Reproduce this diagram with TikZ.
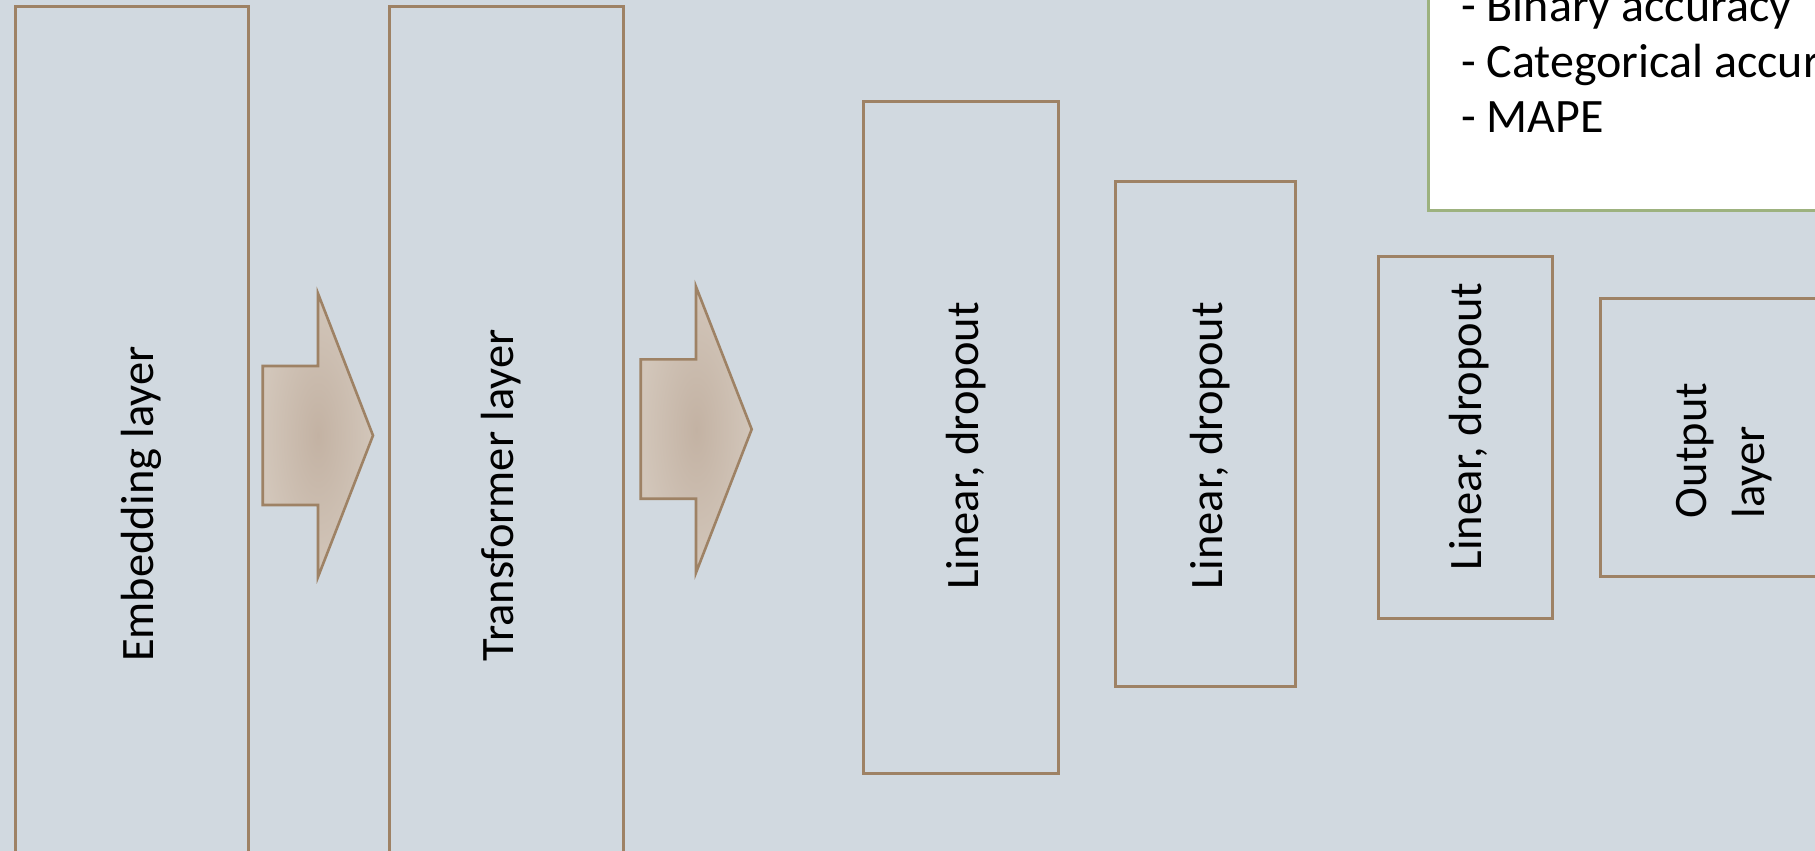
\documentclass[tikz,border=0pt]{standalone}
\usepackage{fontspec}
\setmainfont{Carlito}
\definecolor{bgc}{HTML}{D1D9E0}
\definecolor{brownline}{HTML}{9E8265}
\definecolor{arrowin}{HTML}{C3B2A3}
\definecolor{arrowout}{HTML}{D2C6BA}
\definecolor{greenline}{HTML}{9DB27F}
\begin{document}
\begin{tikzpicture}[x=1pt,y=-1pt,
  boxst/.style={draw=brownline, line width=3pt, inner sep=0pt, anchor=north west},
  metricbox/.style={draw=greenline, fill=white, line width=3pt, inner sep=0pt, anchor=north west},
  lbl/.style={font=\fontsize{46.5}{56}\selectfont, inner sep=0pt, text=black},
  mlbl/.style={font=\fontsize{48}{56}\selectfont, inner sep=0pt, text=black, anchor=base west},
  vlbl/.style={lbl, rotate=90, anchor=base},
  vlblw/.style={lbl, rotate=90, anchor=base west},
  blockarrow/.style={draw=brownline, line width=2.6pt, line join=miter, inner color=arrowin, outer color=arrowout}]
\useasboundingbox (0,0) rectangle (1815,851);
\fill[bgc] (0,0) rectangle (1815,851);
\clip (0,0) rectangle (1815,851);
% boxes
\node[boxst, minimum width=232.6pt, minimum height=1005pt] (emb) at (13.9,4.6) {};
\node[boxst, minimum width=233.8pt, minimum height=1005pt] (trf) at (387.8,4.6) {};
\node[boxst, minimum width=194.5pt, minimum height=672.7pt] (lin1) at (862.3,99.5) {};
\node[boxst, minimum width=179.7pt, minimum height=505.3pt] (lin2) at (1114.3,179.7) {};
\node[boxst, minimum width=173.4pt, minimum height=362pt] (lin3) at (1377.3,254.7) {};
\node[boxst, minimum width=300pt, minimum height=278.3pt] (outb) at (1599.3,296.7) {};
\node[metricbox, minimum width=500pt, minimum height=309pt] (met) at (1427.3,-100) {};
% block arrows
\path[blockarrow] (262.7,366) -- (318,366) -- (318,293.5) -- (373,435.5) -- (318,577) -- (318,505) -- (262.7,505) -- cycle;
\path[blockarrow] (640.7,359.3) -- (696,359.3) -- (696,286.7) -- (751.7,429.3) -- (696,572.7) -- (696,498.7) -- (640.7,498.7) -- cycle;
% labels
\node[vlbl] (embT) at (153.3,504) {Embedding layer};
\node[vlbl] (trfT) at (513.3,495.5) {Transformer layer};
\node[vlbl] (lin1T) at (978,446) {Linear, dropout};
\node[vlbl] (lin2T) at (1222,446) {Linear, dropout};
\node[vlbl] (lin3T) at (1481.7,426.5) {Linear, dropout};
\node[vlblw] (outA) at (1706.7,518.3) {Output};
\node[vlblw] (outB) at (1764.3,518.3) {layer};
\node[mlbl] (m1) at (1461,21.8) {- Binary accuracy};
\node[mlbl] (m2) at (1461,77.3) {- Categorical accuracy};
\node[mlbl] (m3) at (1461,132.7) {- MAPE};
\end{tikzpicture}
\end{document}
